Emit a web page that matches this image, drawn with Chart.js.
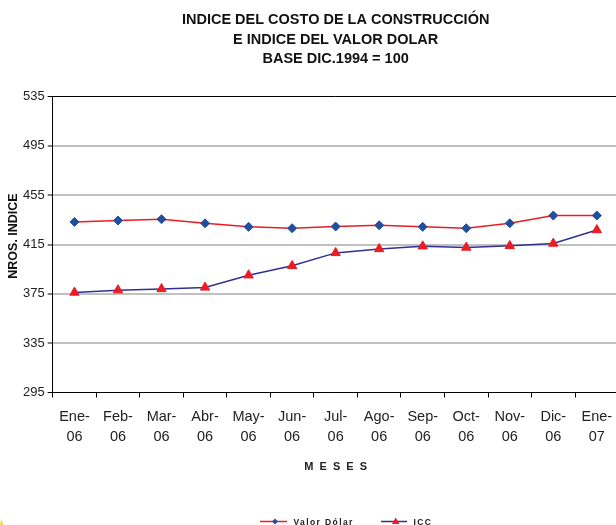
<!DOCTYPE html>
<html lang="es">
<head>
<meta charset="UTF-8">
<title>Indice del Costo de la Construcción</title>
<script src="https://cdn.jsdelivr.net/npm/chart.js"></script>
<style>
  html, body { margin: 0; padding: 0; background: #fff; overflow: hidden; }
  #wrap { position: absolute; left: 0; top: 0; width: 625px; height: 525px; }
</style>
</head>
<body>
<div id="wrap">
  <canvas id="grafico" width="625" height="525"></canvas>
</div>
<script>
// datos
const meses = [['Ene-', '06'], ['Feb-', '06'], ['Mar-', '06'], ['Abr-', '06'], ['May-', '06'], ['Jun-', '06'],
               ['Jul-', '06'], ['Ago-', '06'], ['Sep-', '06'], ['Oct-', '06'], ['Nov-', '06'], ['Dic-', '06'], ['Ene-', '07']];
const valorDolar = [433.3, 434.4, 435.5, 432.2, 429.3, 428.2, 429.6, 430.6, 429.3, 428.2, 432.2, 438.5, 438.5];
const icc = [376.1, 378.0, 379.0, 380.2, 390.1, 397.7, 408.2, 411.4, 413.6, 412.6, 413.9, 415.8, 426.8];
const ejeY = { min: 295, max: 535, paso: 40 };
const titulo = ['INDICE DEL COSTO DE LA CONSTRUCCIÓN', 'E INDICE DEL VALOR DOLAR', 'BASE DIC.1994 = 100'];
const tituloY = 'NROS. INDICE';

const ROJO = '#ec1c24';
const AZUL = '#1f4f9e';
const AZUL_OSC = '#2e3192';
const FUENTE = '"Liberation Sans", Arial, sans-serif';

// leyenda a mano (linea + marcador), titulo del eje Y y la marquita amarilla de la esquina
const extras = {
  id: 'extras',
  afterDraw(chart) {
    const ctx = chart.ctx;
    const y = 521.5;
    ctx.save();
    // titulo eje Y (en el original no esta centrado en el eje)
    ctx.save();
    ctx.translate(14, 236);
    ctx.rotate(-Math.PI / 2);
    ctx.fillStyle = '#111';
    ctx.font = 'bold 12.5px ' + FUENTE;
    ctx.textAlign = 'center';
    ctx.textBaseline = 'middle';
    ctx.fillText(tituloY, 0, 0);
    ctx.restore();
    // Valor Dolar
    ctx.strokeStyle = ROJO; ctx.lineWidth = 1.5;
    ctx.beginPath(); ctx.moveTo(260, y); ctx.lineTo(287, y); ctx.stroke();
    ctx.fillStyle = AZUL;
    ctx.beginPath(); ctx.moveTo(275, y - 3); ctx.lineTo(278, y); ctx.lineTo(275, y + 3); ctx.lineTo(272, y); ctx.closePath(); ctx.fill();
    // ICC
    ctx.strokeStyle = AZUL_OSC;
    ctx.beginPath(); ctx.moveTo(381, y); ctx.lineTo(407, y); ctx.stroke();
    ctx.fillStyle = ROJO;
    ctx.beginPath(); ctx.moveTo(395.7, y - 4); ctx.lineTo(399.5, y + 2.5); ctx.lineTo(391.9, y + 2.5); ctx.closePath(); ctx.fill();
    // textos
    ctx.fillStyle = '#222';
    ctx.font = 'bold 8.5px ' + FUENTE;
    ctx.letterSpacing = '1.4px';
    ctx.textBaseline = 'alphabetic';
    ctx.fillText('Valor Dólar', 293.5, 524.5);
    ctx.fillText('ICC', 413.5, 524.5);
    // marca amarilla
    ctx.fillStyle = '#f3e01c';
    ctx.beginPath(); ctx.moveTo(0, 525); ctx.lineTo(1.2, 519); ctx.lineTo(3.6, 525); ctx.closePath(); ctx.fill();
    ctx.restore();
  }
};

const grafico = new Chart(document.getElementById('grafico'), {
  type: 'line',
  data: {
    labels: meses,
    datasets: [
      {
        label: 'Valor Dólar',
        data: valorDolar,
        borderColor: ROJO,
        borderWidth: 1.5,
        pointStyle: 'rectRot',
        pointRadius: 4.5,
        pointBackgroundColor: AZUL,
        pointBorderColor: AZUL,
        pointBorderWidth: 1,
        tension: 0
      },
      {
        label: 'ICC',
        data: icc,
        borderColor: AZUL_OSC,
        borderWidth: 1.5,
        pointStyle: 'triangle',
        pointRadius: 5.4,
        pointBackgroundColor: ROJO,
        pointBorderColor: ROJO,
        pointBorderWidth: 1,
        tension: 0
      }
    ]
  },
  options: {
    responsive: false,
    animation: false,
    events: [],
    layout: { padding: { top: 0, left: 0, right: 5.5, bottom: 0 } },
    plugins: {
      legend: { display: false },
      tooltip: { enabled: false },
      title: {
        display: true,
        fullSize: false,
        text: titulo,
        color: '#111',
        font: { family: FUENTE, size: 14.5, weight: 'bold', lineHeight: 1.345 },
        padding: { top: 10.5, bottom: 27.5 }
      }
    },
    scales: {
      x: {
        offset: true,
        afterFit: s => { s.height = 132.5; },
        border: { display: true, color: '#000', width: 1 },
        grid: { display: true, drawOnChartArea: false, offset: true, drawTicks: true, tickLength: 5, tickColor: '#000', tickWidth: 1 },
        ticks: {
          color: '#222',
          padding: 9.5,
          maxRotation: 0,
          autoSkip: false,
          font: { family: FUENTE, size: 14.5, lineHeight: 1.38 }
        },
        title: {
          display: true,
          text: 'M  E  S  E  S',
          color: '#222',
          font: { family: FUENTE, size: 11, weight: 'bold', lineHeight: 1.2 },
          padding: { top: 0, bottom: 51.4 }
        }
      },
      y: {
        min: ejeY.min,
        max: ejeY.max,
        afterFit: s => { s.width = 52.7; },
        border: { display: true, color: '#000', width: 1 },
        grid: {
          color: c => (c.tick && (c.tick.value === ejeY.max || c.tick.value === ejeY.min)) ? '#000' : '#c0c0c0',
          lineWidth: c => (c.tick && (c.tick.value === ejeY.max || c.tick.value === ejeY.min)) ? 1 : 2,
          tickLength: 5,
          tickColor: '#000',
          tickWidth: 1
        },
        ticks: {
          stepSize: ejeY.paso,
          color: '#222',
          padding: 3,
          font: { family: FUENTE, size: 13 }
        }
      }
    }
  },
  plugins: [extras]
});
</script>
</body>
</html>
